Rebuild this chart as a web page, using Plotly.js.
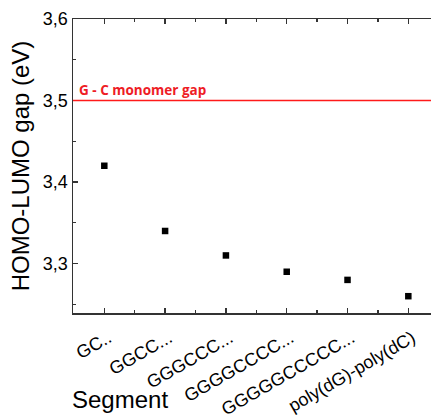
<!DOCTYPE html>
<html>
<head>
<meta charset="utf-8">
<script src="https://cdn.plot.ly/plotly-3.0.1.min.js"></script>
<style>html,body{margin:0;padding:0;background:#fff;}#chart{width:431px;height:418px;}</style>
</head>
<body>
<div id="chart"></div>
<script>
const positions = [1, 2, 3, 4, 5, 6];
const segments = ["GC..", "GGCC...", "GGGCCC...", "GGGGCCCC...", "GGGGGCCCCC...", "poly(dG)-poly(dC)"];
const gaps = [3.42, 3.34, 3.31, 3.29, 3.28, 3.26];
const monomerGap = 3.5;
const monomerLabel = "G - C monomer gap";
const xTitle = "Segment";
const yTitle = "HOMO-LUMO gap (eV)";

const axisColor = "#333";
const trace = {
  x: positions, y: gaps, type: "scatter", mode: "markers",
  marker: {symbol: "square", size: 6.5, color: "#000"},
  showlegend: false, hoverinfo: "skip"
};
const layout = {
  width: 431, height: 418,
  margin: {l: 73, r: 0, t: 19, b: 105},
  paper_bgcolor: "#fff", plot_bgcolor: "#fff",
  separators: ",.",
  font: {family: "Liberation Sans, Arial, sans-serif", color: "#000"},
  xaxis: {
    range: [0.485, 6.373], tickmode: "array", tickvals: positions, ticktext: segments,
    tickangle: -30, tickfont: {size: 18}, ticklabelstandoff: 6, ticklabelshift: 4,
    ticks: "inside", ticklen: 5, tickwidth: 1.3, tickcolor: axisColor,
    minor: {tickmode: "linear", tick0: 0.5, dtick: 1, ticks: "inside", ticklen: 3, tickwidth: 1.3, tickcolor: axisColor, showgrid: false},
    showline: true, linecolor: axisColor, linewidth: 1.5, mirror: "ticks",
    showgrid: false, zeroline: false
  },
  yaxis: {
    range: [3.2394, 3.6], tickmode: "linear", tick0: 3.3, dtick: 0.1, tickformat: ".1f",
    tickfont: {size: 18}, ticks: "inside", ticklen: 5, tickwidth: 1.3, tickcolor: axisColor,
    minor: {tickmode: "linear", tick0: 3.25, dtick: 0.1, ticks: "inside", ticklen: 3, tickwidth: 1.3, tickcolor: axisColor, showgrid: false},
    showline: true, linecolor: axisColor, linewidth: 1.5,
    showgrid: false, zeroline: false,
    title: {text: yTitle, font: {size: 24}, standoff: 6}
  },
  shapes: [{type: "line", xref: "paper", x0: 0, x1: 1, yref: "y", y0: monomerGap, y1: monomerGap,
    line: {color: "#ff1a1a", width: 1.5}}],
  annotations: [
    {xref: "paper", x: 0.012, xanchor: "left", yref: "y", y: monomerGap, yanchor: "bottom", yshift: 0,
      text: "<b>" + monomerLabel + "</b>", showarrow: false,
      font: {family: "Open Sans, sans-serif", size: 13.5, color: "#ee1c25"}},
    {xref: "paper", x: 0, xanchor: "left", xshift: -3, yref: "paper", y: -0.295, yanchor: "middle",
      text: xTitle, showarrow: false, font: {size: 24, color: "#000"}}
  ]
};
Plotly.newPlot("chart", [trace], layout, {displayModeBar: false, staticPlot: true});
</script>
</body>
</html>
